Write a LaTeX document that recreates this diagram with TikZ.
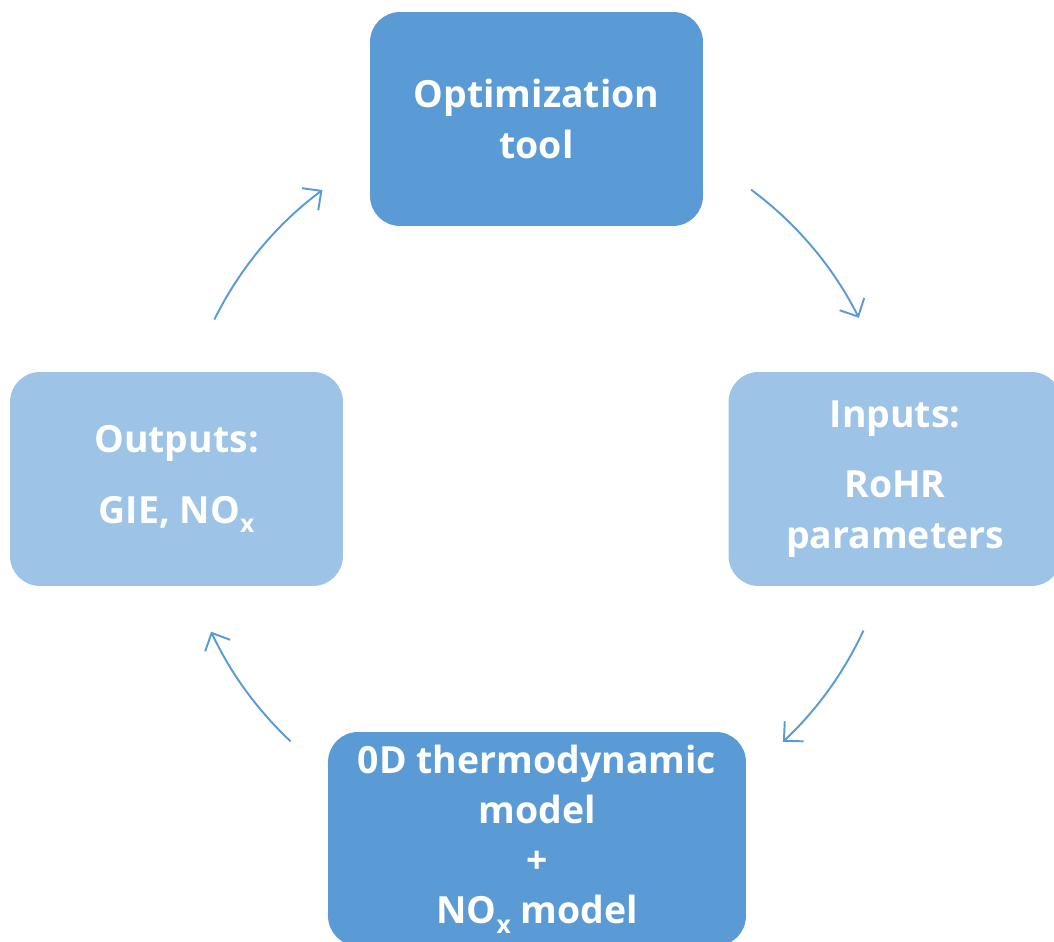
\documentclass[tikz,border=0pt]{standalone}
\usepackage{fontspec}
\setmainfont{Open Sans}
\usetikzlibrary{arrows.meta}

\definecolor{darkbox}{HTML}{5B9BD5}
\definecolor{lightbox}{HTML}{9DC3E6}
\newcommand{\NOx}{NO\raisebox{-0.45ex}{\fontsize{14}{14}\selectfont x}}

\tikzset{
  stagebox/.style={rounded corners=0.6cm, minimum width=6.66cm, minimum height=4.28cm,
    align=center, text=white, font=\fontsize{21.3}{28.6}\selectfont\bfseries},
  cyc/.style={draw=darkbox, line width=1.1pt, -{Straight Barb[length=2.8mm, width=5.5mm]}}
}

\begin{document}
\begin{tikzpicture}[x=0.02cm, y=0.02cm]
    \useasboundingbox (0,0) rectangle (1054,942);
    \clip (0,0) rectangle (1054,942);

    % draw boxes
    \node[stagebox, fill=darkbox] (opt) at (536.5,823) {Optimization\\tool};
    \node[stagebox, fill=lightbox] (inputs) at (895,463) {Inputs:\\[0.4cm]RoHR\\parameters};
    \node[stagebox, fill=darkbox, minimum width=8.36cm] (model) at (537,103)
      {0D thermodynamic\\model\\+\\\NOx{} model};
    \node[stagebox, fill=lightbox] (outputs) at (176.5,463) {Outputs:\\[0.4cm]GIE, \NOx};

    % draw arrows round the cycle
    \coordinate (ctr) at (537,463);
    \foreach \s/\e [count=\i] in {153.7/126.6, 53.5/26.6, -24.9/-46.9, -133.2/-154.9} {
      \path (ctr) ++(\s:7.2cm) coordinate (arc\i);
      \draw[cyc] (arc\i) arc[start angle=\s, end angle=\e, radius=7.2cm];
    }
\end{tikzpicture}
\end{document}
